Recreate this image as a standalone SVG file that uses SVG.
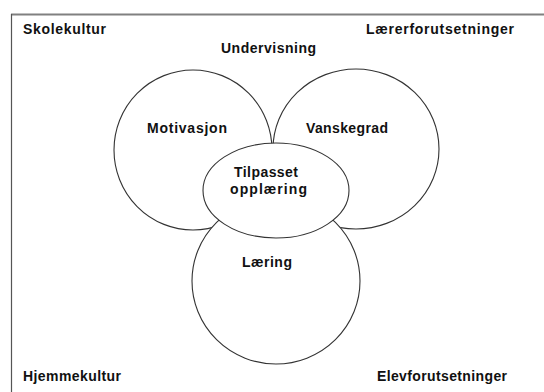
<svg xmlns="http://www.w3.org/2000/svg" width="544" height="392" viewBox="0 0 544 392">
<style>
.shape{fill:#fff;stroke:#333;stroke-width:1.1}
.t{font-family:"Liberation Sans",Arial,sans-serif;font-weight:bold;font-size:14px;fill:#111}
.m{text-anchor:middle}
</style>
<rect width="544" height="392" fill="#fff"/>
<g id="frame">
<line x1="11" y1="14.5" x2="544" y2="14.5" stroke="#808080" stroke-width="2"/>
<line x1="11.5" y1="14" x2="11.5" y2="392" stroke="#555" stroke-width="1.2"/>
</g>
<g id="labels">
<text class="t" x="23" y="34" textLength="83" lengthAdjust="spacing">Skolekultur</text>
<text class="t" x="366" y="34" textLength="148" lengthAdjust="spacing">Lærerforutsetninger</text>
<text class="t" x="221" y="53" textLength="95" lengthAdjust="spacing">Undervisning</text>
<text class="t" x="23" y="381" textLength="98" lengthAdjust="spacing">Hjemmekultur</text>
<text class="t" x="377" y="381" textLength="130" lengthAdjust="spacing">Elevforutsetninger</text>
</g>
<g id="motivasjon">
<ellipse class="shape" cx="193" cy="150" rx="79" ry="80"/>
<text class="t" x="147" y="133" textLength="80" lengthAdjust="spacing">Motivasjon</text>
</g>
<g id="vanskegrad">
<ellipse class="shape" cx="356" cy="149" rx="83" ry="80"/>
<text class="t" x="306" y="133" textLength="82" lengthAdjust="spacing">Vanskegrad</text>
</g>
<g id="laering">
<ellipse class="shape" cx="276" cy="281" rx="84" ry="83"/>
<text class="t" x="242" y="267" textLength="50" lengthAdjust="spacing">Læring</text>
</g>
<g id="tilpasset">
<ellipse class="shape" cx="276" cy="190.5" rx="73" ry="47.5"/>
<text class="t" x="234" y="177" textLength="64" lengthAdjust="spacing">Tilpasset</text>
<text class="t" x="230" y="194" textLength="77" lengthAdjust="spacing">opplæring</text>
</g>
<g id="connectors"></g>
</svg>
